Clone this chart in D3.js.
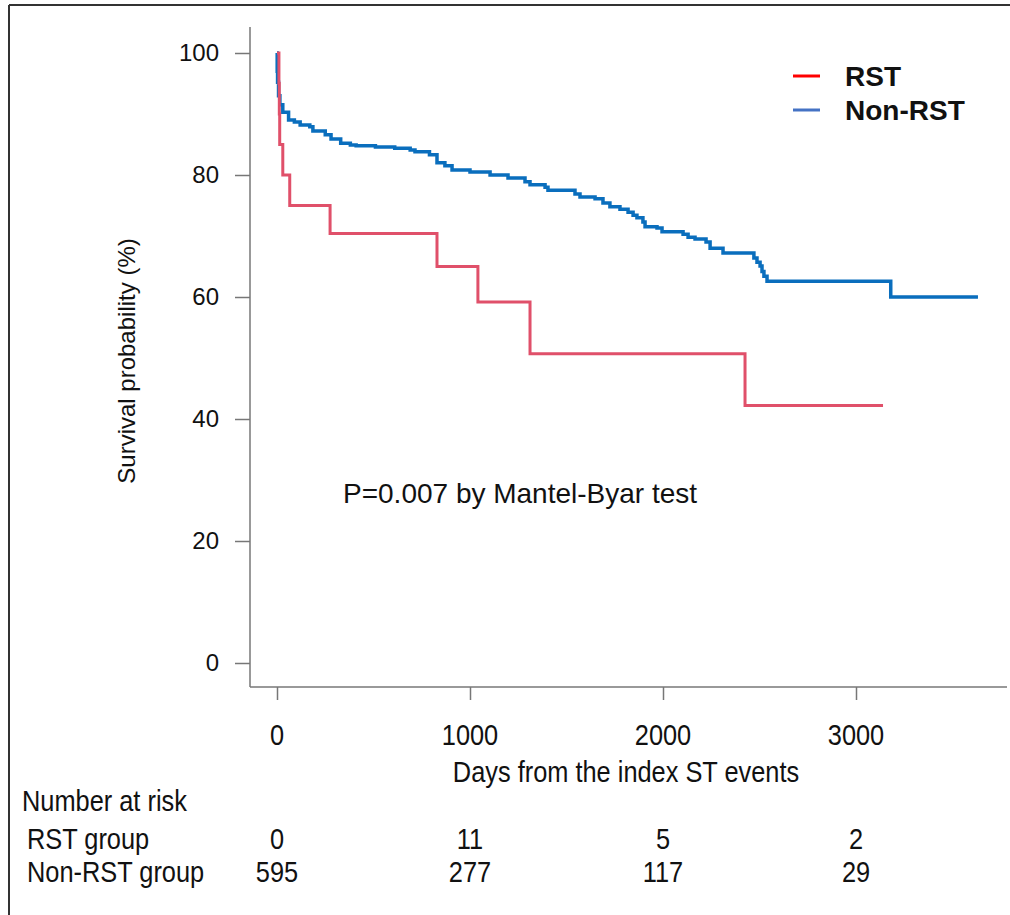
<!DOCTYPE html>
<html>
<head>
<meta charset="utf-8">
<script src="https://cdn.jsdelivr.net/npm/d3@7"></script>
<style>
  body { margin: 0; background: #fff; }
  text { font-family: "Liberation Sans", Arial, sans-serif; fill: #111; }
</style>
</head>
<body>
<div id="viz"></div>
<script>
// RST group: step times (days) and survival (%)
const rstTimes = [0, 10, 12, 14, 30, 66, 275, 829, 1041, 1311, 2425, 3140];
const rstSurv  = [100, 95, 90, 85, 80, 75, 70.4, 65.0, 59.2, 50.7, 42.2, 42.2];

// Non-RST group
const nonTimes = [0, 1, 3, 8, 15, 30, 60, 90, 120, 170, 186, 250, 280, 330, 380, 410, 510, 610, 690, 715, 790,
  829, 870, 907, 1000, 1104, 1197, 1285, 1311, 1389, 1404, 1544, 1570, 1648, 1689, 1725, 1777, 1819, 1845, 1865,
  1896, 1907, 1969, 1995, 2104, 2130, 2166, 2223, 2244, 2311, 2471, 2487, 2503, 2513, 2523, 2539, 3180, 3632];
const nonSurv  = [100, 97, 95.2, 93, 91.5, 90.3, 89, 88.7, 88.2, 87.9, 87.2, 86.6, 85.9, 85.2, 84.9, 84.8, 84.6, 84.4, 84.1, 83.8, 83.3,
  82.0, 81.5, 80.8, 80.5, 80.0, 79.5, 78.9, 78.4, 78.0, 77.5, 76.9, 76.4, 76.1, 75.4, 74.8, 74.4, 73.9, 73.4, 73.0,
  72.3, 71.5, 71.3, 70.7, 70.3, 69.8, 69.5, 69.0, 68.0, 67.2, 66.4, 65.7, 65.1, 64.2, 63.4, 62.6, 60.0, 60.0];

const xTicks = [0, 1000, 2000, 3000];
const yTicks = [0, 20, 40, 60, 80, 100];
const riskGroups = ["RST group", "Non-RST group"];
const riskRST = [0, 11, 5, 2];
const riskNon = [595, 277, 117, 29];
const legendLabels = ["RST", "Non-RST"];

const width = 1010, height = 915;
const svg = d3.select("#viz").append("svg").attr("width", width).attr("height", height);

// outer frame (top and left only)
svg.append("line").attr("x1", 9).attr("x2", width).attr("y1", 5).attr("y2", 5).attr("stroke", "#333").attr("stroke-width", 2);
svg.append("line").attr("x1", 9).attr("x2", 9).attr("y1", 5).attr("y2", height).attr("stroke", "#333").attr("stroke-width", 2);

const x = d3.scaleLinear().domain([0, 3000]).range([277, 856]);
const y = d3.scaleLinear().domain([0, 100]).range([663, 53]);

// axis frame lines
svg.append("line").attr("x1", 250).attr("x2", 250).attr("y1", 27).attr("y2", 687).attr("stroke", "#777").attr("stroke-width", 1.5);
svg.append("line").attr("x1", 250).attr("x2", 1007).attr("y1", 687).attr("y2", 687).attr("stroke", "#777").attr("stroke-width", 1.5);

// y axis
const yAxis = svg.append("g").attr("transform", "translate(250,0)")
  .call(d3.axisLeft(y).tickValues(yTicks).tickSize(15).tickPadding(16));
yAxis.select(".domain").remove();
yAxis.selectAll("line").attr("stroke", "#777").attr("stroke-width", 1.5);
yAxis.selectAll("text").attr("font-size", 24).attr("font-family", "Liberation Sans, Arial, sans-serif").attr("fill", "#111");

// x axis
const xAxis = svg.append("g").attr("transform", "translate(0,687)")
  .call(d3.axisBottom(x).tickValues(xTicks).tickSize(13).tickFormat(d3.format("d")));
xAxis.select(".domain").remove();
xAxis.selectAll("line").attr("stroke", "#777").attr("stroke-width", 1.5);
xAxis.selectAll("text").remove();

// condensed text helper for the lower block
function condText(tx, ty, str, anchor) {
  svg.append("text")
    .attr("transform", `translate(${tx},${ty}) scale(0.875,1)`)
    .attr("font-size", 29)
    .attr("text-anchor", anchor || "start")
    .text(str);
}

xTicks.forEach(t => condText(x(t), 745, t, "middle"));
condText(626, 782, "Days from the index ST events", "middle");
condText(22, 811, "Number at risk");
condText(27, 849, riskGroups[0]);
condText(27, 882, riskGroups[1]);
xTicks.forEach((t, i) => {
  condText(x(t), 849, riskRST[i], "middle");
  condText(x(t), 882, riskNon[i], "middle");
});

// y label
svg.append("text")
  .attr("transform", "translate(135,361) rotate(-90)")
  .attr("text-anchor", "middle")
  .attr("font-size", 24)
  .text("Survival probability (%)");

// curves
const line = d3.line().x(d => x(d[0])).y(d => y(d[1])).curve(d3.curveStepAfter);
svg.append("path").datum(d3.zip(nonTimes, nonSurv))
  .attr("d", line).attr("fill", "none").attr("stroke", "#0a6ebd").attr("stroke-width", 3.5);
svg.append("path").datum(d3.zip(rstTimes, rstSurv))
  .attr("d", line).attr("fill", "none").attr("stroke", "#e0506a").attr("stroke-width", 3);

// p value
svg.append("text").attr("x", 343).attr("y", 503).attr("font-size", 28)
  .text("P=0.007 by Mantel-Byar test");

// legend
const legColors = ["#ff0000", "#4472c4"];
legendLabels.forEach((lab, i) => {
  const ly = 76 + i * 34;
  svg.append("line").attr("x1", 793).attr("x2", 820).attr("y1", ly).attr("y2", ly)
    .attr("stroke", legColors[i]).attr("stroke-width", 3);
  svg.append("text").attr("x", 845).attr("y", ly + 10).attr("font-size", 28)
    .attr("font-weight", "bold").text(lab);
});
</script>
</body>
</html>
